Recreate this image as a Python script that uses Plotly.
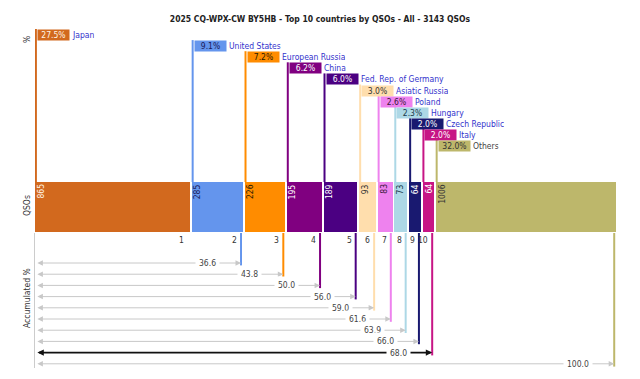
import plotly.graph_objects as go

# ---------------- data ----------------
title_text = "2025 CQ-WPX-CW BY5HB - Top 10 countries by QSOs - All - 3143 QSOs"
countries = ["Japan", "United States", "European Russia", "China", "Fed. Rep. of Germany",
             "Asiatic Russia", "Poland", "Hungary", "Czech Republic", "Italy", "Others"]
qsos = [865, 285, 226, 195, 189, 93, 83, 73, 64, 64, 1006]
percent = [27.5, 9.1, 7.2, 6.2, 6.0, 3.0, 2.6, 2.3, 2.0, 2.0, 32.0]
accumulated = [27.5, 36.6, 43.8, 50.0, 56.0, 59.0, 61.6, 63.9, 66.0, 68.0, 100.0]
rank_labels = ["1", "2", "3", "4", "5", "6", "7", "8", "9", "10"]

# ---------------- style ----------------
colors = ["#D2691E", "#6495ED", "#FF8C00", "#800080", "#4B0082", "#FFDEAD",
          "#EE82EE", "#ADD8E6", "#191970", "#C71585", "#BDB76B"]
text_colors = ["#FFF5E6", "#1A1A5A", "#2A1A00", "#FFFFFF", "#FFFFFF", "#333333",
               "#3A1A3A", "#1A3A4A", "#FFFFFF", "#FFFFFF", "#333333"]
name_colors = ["#3333CC"] * 10 + ["#444444"]
FONT = "'DejaVu Sans Condensed', 'DejaVu Sans', sans-serif"
gap = 10  # gap between bars, in QSO units

# page body has an 8px margin: figure is placed at (8, 8)
W, H = 624, 363
ML, MT = 27, 17          # plot area starts at page x=35, y=25
PW, PH = 581, 343        # plot area size
MR, MB = W - ML - PW, H - MT - PH

n = len(qsos)
starts = []
acc = 0
for i, v in enumerate(qsos):
    starts.append(acc + i * gap)
    acc += v
ends = [s + v for s, v in zip(starts, qsos)]
xmax = sum(qsos) + (n - 1) * gap

fig = go.Figure()

# bars (middle section)
fig.add_trace(go.Bar(
    x=[s + v / 2 for s, v in zip(starts, qsos)], y=[1] * n, width=qsos,
    marker=dict(color=colors, line=dict(width=0)),
    xaxis="x", yaxis="y2", hoverinfo="skip", showlegend=False,
))
for i in range(n):
    fig.add_annotation(
        x=starts[i], y=1, xref="x", yref="y2", xanchor="left", yanchor="top",
        xshift=0, yshift=-1, text=str(qsos[i]), textangle=-90, showarrow=False,
        borderpad=0, font=dict(family=FONT, size=8.5, color=text_colors[i]))

# top section: staircase lines + labels
TOP_BOTTOM = -13.78
for i in range(n):
    lx = starts[i] + gap / 2
    fig.add_trace(go.Scatter(
        x=[lx, lx], y=[TOP_BOTTOM, -i], mode="lines",
        line=dict(color=colors[i], width=2), xaxis="x", yaxis="y3",
        hoverinfo="skip", showlegend=False))
    fig.add_annotation(
        x=lx, y=-i, xref="x", yref="y3", xanchor="left", yanchor="top", xshift=1,
        text=f"{percent[i]:.1f}%", showarrow=False, bgcolor=colors[i],
        width=31, height=10, borderpad=0, align="center",
        font=dict(family=FONT, size=8.5, color=text_colors[i]))
    fig.add_annotation(
        x=lx, y=-i, xref="x", yref="y3", xanchor="left", yanchor="top", xshift=35,
        text=countries[i], showarrow=False, height=10, borderpad=0,
        font=dict(family=FONT, size=8.5, color=name_colors[i]))

# bottom section: rank labels, vertical lines, accumulated arrows
BOT_TOP = 1.68
for i in range(n - 1):
    ex = ends[i] - gap
    fig.add_annotation(
        x=ex, y=1.05, xref="x", yref="y", xanchor="right", yanchor="middle", xshift=-2,
        text=rank_labels[i], showarrow=False,
        font=dict(family=FONT, size=8.5, color="#333333"))
for i in range(1, n):
    ex = ends[i] - gap
    fig.add_trace(go.Scatter(
        x=[ex, ex], y=[BOT_TOP, -i - 0.25], mode="lines",
        line=dict(color=colors[i], width=2), xaxis="x", yaxis="y",
        hoverinfo="skip", showlegend=False))
    highlight = (i == n - 2)
    acol = "#111111" if highlight else "#C8C8C8"
    fig.add_annotation(
        x=ex, y=-i, ax=gap / 2, ay=-i, xref="x", yref="y", axref="x", ayref="y",
        text="", showarrow=True, arrowside="end+start", arrowhead=2,
        arrowsize=0.8 if highlight else 1.1, arrowwidth=1.6 if highlight else 1,
        arrowcolor=acol, standoff=0, startstandoff=0)
    fig.add_annotation(
        x=ex, y=-i, xref="x", yref="y", xanchor="right", yanchor="middle", xshift=-21,
        text=f"{accumulated[i]:.1f}", showarrow=False, bgcolor="white", borderpad=3,
        font=dict(family=FONT, size=8.5, color="#444444"))

# axis titles (left side)
TX = -8 / PW
for label, py in [("%", 40), ("QSOs", 206), ("Accumulated %", 298)]:
    fig.add_annotation(x=TX, y=(368 - py) / PH, xref="paper", yref="paper",
                       xanchor="center", yanchor="middle",
                       text=label, textangle=-90, showarrow=False,
                       font=dict(family=FONT, size=8.5, color="#333333"))

hidden = dict(showgrid=False, zeroline=False, showticklabels=False, ticks="", fixedrange=True)
fig.update_layout(
    width=W, height=H,
    margin=dict(l=ML, r=MR, t=MT, b=MB, autoexpand=False),
    paper_bgcolor="white", plot_bgcolor="white",
    title=dict(text=f"<b>{title_text}</b>", x=0.5, xanchor="center", y=1 - 11 / H,
               yanchor="middle", font=dict(family=FONT, size=8.5, color="#222222")),
    xaxis=dict(range=[0, xmax], **hidden),
    yaxis=dict(domain=[0, 0.3936], range=[-10.375, BOT_TOP], showline=True,
               linecolor="#CCCCCC", linewidth=1, **hidden),
    yaxis2=dict(domain=[0.3965, 0.5423], range=[0, 1], **hidden),
    yaxis3=dict(domain=[0.5423, 1], range=[TOP_BOTTOM, 0.36], **hidden),
    bargap=0, showlegend=False,
)

fig.write_html("out.html")
